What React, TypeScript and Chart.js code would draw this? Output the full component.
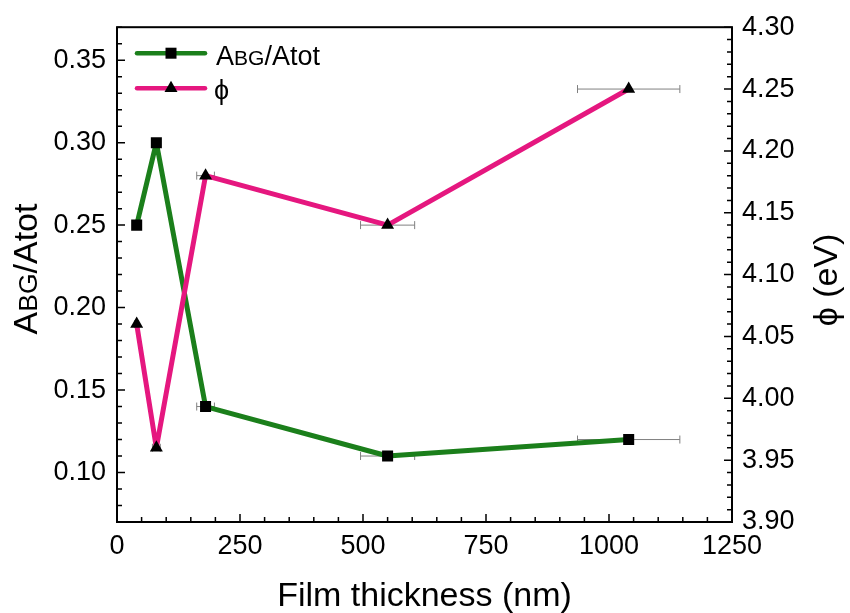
import { useEffect, useRef } from 'react';
import { Chart, registerables } from 'chart.js';

Chart.register(...registerables);

// ---- data ----
const THICKNESS = [40, 80, 180, 550, 1040];
const THICKNESS_ERR = [4, 8, 18, 55, 104];
const ABG_RATIO = [0.25, 0.3, 0.14, 0.11, 0.12];
const WORK_FUNCTION = [4.06, 3.96, 4.18, 4.14, 4.25];

// ---- axes ----
const X_TICKS = [0, 250, 500, 750, 1000, 1250];
const LEFT_TICKS = [0.1, 0.15, 0.2, 0.25, 0.3, 0.35];
const RIGHT_TICKS = [3.9, 3.95, 4.0, 4.05, 4.1, 4.15, 4.2, 4.25, 4.3];
const X_RANGE = [0, 1250];
const LEFT_RANGE = [0.07, 0.37];
const RIGHT_RANGE = [3.9, 4.3];
const X_MINOR_STEP = 50;
const Y_MINOR_STEP = 0.01;

const SERIES_NAMES = ['ABG/Atot', 'ϕ'];
const X_TITLE = 'Film thickness (nm)';
const RIGHT_TITLE = 'ϕ (eV)';

const GREEN = '#1b7f1b';
const PINK = '#e5177f';
const FONT = '"Liberation Sans", Arial, Helvetica, "DejaVu Sans", sans-serif';

function drawRich(ctx: CanvasRenderingContext2D, parts: Array<[string, number]>, x: number, y: number, size: number, align: 'center' | 'left') {
  let total = 0;
  const widths = parts.map(([t, f]) => {
    ctx.font = `${size * f}px ${FONT}`;
    const w = ctx.measureText(t).width;
    total += w;
    return w;
  });
  let cx = align === 'center' ? x - total / 2 : x;
  ctx.textAlign = 'left';
  ctx.textBaseline = 'alphabetic';
  ctx.fillStyle = '#000';
  parts.forEach(([t, f], i) => {
    ctx.font = `${size * f}px ${FONT}`;
    ctx.fillText(t, cx, y);
    cx += widths[i];
  });
}

function rangeSteps(min: number, max: number, step: number) {
  const out: number[] = [];
  const n = Math.round((max - min) / step);
  for (let i = 0; i <= n; i++) out.push(min + i * step);
  return out;
}

function isMajor(v: number, majors: number[]) {
  return majors.some((m) => Math.abs(m - v) < 1e-6);
}

const ABG_PARTS: Array<[string, number]> = [['A', 1], ['BG', 0.78], ['/Atot', 1]];

const framePlugin = {
  id: 'framePlugin',
  beforeDatasetsDraw(chart: any) {
    const ctx: CanvasRenderingContext2D = chart.ctx;
    const xs = chart.scales.x;
    ctx.save();
    ctx.strokeStyle = '#808080';
    ctx.lineWidth = 1;
    chart.data.datasets.forEach((ds: any) => {
      const ys = chart.scales[ds.yAxisID];
      ds.data.forEach((p: any, i: number) => {
        const err = THICKNESS_ERR[i];
        const x0 = xs.getPixelForValue(p.x - err);
        const x1 = xs.getPixelForValue(p.x + err);
        const y = ys.getPixelForValue(p.y);
        ctx.beginPath();
        ctx.moveTo(x0, y);
        ctx.lineTo(x1, y);
        ctx.moveTo(x0, y - 4);
        ctx.lineTo(x0, y + 4);
        ctx.moveTo(x1, y - 4);
        ctx.lineTo(x1, y + 4);
        ctx.stroke();
      });
    });
    ctx.restore();
  },
  afterDraw(chart: any) {
    const ctx: CanvasRenderingContext2D = chart.ctx;
    const { left, right, top, bottom } = chart.chartArea;
    const xs = chart.scales.x;
    const yl = chart.scales.y;
    const yr = chart.scales.y1;
    ctx.save();
    // frame
    ctx.strokeStyle = '#000';
    ctx.lineWidth = 2;
    ctx.strokeRect(left, top, right - left, bottom - top);
    // ticks
    ctx.lineWidth = 1.5;
    ctx.beginPath();
    rangeSteps(X_RANGE[0], X_RANGE[1], X_MINOR_STEP).forEach((v) => {
      const len = isMajor(v, X_TICKS) ? 8 : 5;
      const px = xs.getPixelForValue(v);
      ctx.moveTo(px, bottom);
      ctx.lineTo(px, bottom - len);
    });
    rangeSteps(LEFT_RANGE[0], LEFT_RANGE[1], Y_MINOR_STEP).forEach((v) => {
      const len = isMajor(v, LEFT_TICKS) ? 8 : 5;
      const py = yl.getPixelForValue(v);
      ctx.moveTo(left, py);
      ctx.lineTo(left + len, py);
    });
    rangeSteps(RIGHT_RANGE[0], RIGHT_RANGE[1], Y_MINOR_STEP).forEach((v) => {
      const len = isMajor(v, RIGHT_TICKS) ? 8 : 5;
      const py = yr.getPixelForValue(v);
      ctx.moveTo(right, py);
      ctx.lineTo(right - len, py);
    });
    ctx.stroke();

    // axis titles
    drawRich(ctx, [[X_TITLE, 1]], (left + right) / 2, 606, 34, 'center');
    ctx.save();
    ctx.translate(37, 269);
    ctx.rotate(-Math.PI / 2);
    drawRich(ctx, ABG_PARTS, 0, 0, 34, 'center');
    ctx.restore();
    ctx.save();
    ctx.translate(837, 280);
    ctx.rotate(-Math.PI / 2);
    drawRich(ctx, [[RIGHT_TITLE, 1]], 0, 0, 34, 'center');
    ctx.restore();

    // legend
    const lx0 = left + 20;
    const lx1 = left + 88;
    const lxm = (lx0 + lx1) / 2;
    const rows = [
      { y: top + 26, color: GREEN, marker: 'rect' },
      { y: top + 61, color: PINK, marker: 'triangle' },
    ];
    rows.forEach((r) => {
      ctx.strokeStyle = r.color;
      ctx.lineWidth = 4.5;
      ctx.lineCap = 'round';
      ctx.beginPath();
      ctx.moveTo(lx0, r.y);
      ctx.lineTo(lx1, r.y);
      ctx.stroke();
      ctx.fillStyle = '#000';
      ctx.beginPath();
      if (r.marker === 'rect') {
        ctx.rect(lxm - 5.5, r.y - 5.5, 11, 11);
      } else {
        const rad = 7.5;
        ctx.moveTo(lxm, r.y - rad);
        ctx.lineTo(lxm + rad * Math.sin((2 * Math.PI) / 3), r.y + rad / 2);
        ctx.lineTo(lxm - rad * Math.sin((2 * Math.PI) / 3), r.y + rad / 2);
        ctx.closePath();
      }
      ctx.fill();
    });
    drawRich(ctx, ABG_PARTS, lx1 + 11, top + 38, 27, 'left');
    drawRich(ctx, [[SERIES_NAMES[1], 1]], lx1 + 9, top + 72, 27, 'left');
    ctx.restore();
  },
};

export default function App() {
  const ref = useRef<HTMLCanvasElement | null>(null);
  useEffect(() => {
    document.body.style.margin = '0';
    const canvas = ref.current;
    if (!canvas) return;
    const tickFont = { family: FONT, size: 27 };
    const chart = new Chart(canvas, {
      type: 'line',
      data: {
        datasets: [
          {
            label: SERIES_NAMES[0],
            data: THICKNESS.map((x, i) => ({ x, y: ABG_RATIO[i] })),
            yAxisID: 'y',
            borderColor: GREEN,
            backgroundColor: '#000',
            borderWidth: 5,
            borderJoinStyle: 'round',
            borderCapStyle: 'round',
            pointStyle: 'rect',
            pointRadius: 7.8,
            pointBorderWidth: 0,
            pointBackgroundColor: '#000',
            tension: 0,
            order: 2,
          },
          {
            label: SERIES_NAMES[1],
            data: THICKNESS.map((x, i) => ({ x, y: WORK_FUNCTION[i] })),
            yAxisID: 'y1',
            borderColor: PINK,
            backgroundColor: '#000',
            borderWidth: 5,
            borderJoinStyle: 'round',
            borderCapStyle: 'round',
            pointStyle: 'triangle',
            pointRadius: 7.5,
            pointBorderWidth: 0,
            pointBackgroundColor: '#000',
            tension: 0,
            order: 1,
          },
        ],
      },
      options: {
        animation: false,
        responsive: false,
        maintainAspectRatio: false,
        layout: { padding: { top: 24, left: 0, right: 0, bottom: 0 } },
        plugins: { legend: { display: false }, tooltip: { enabled: false } },
        scales: {
          x: {
            type: 'linear',
            min: X_RANGE[0],
            max: X_RANGE[1],
            grid: { display: false, drawTicks: false },
            border: { display: false },
            afterBuildTicks: (s: any) => {
              s.ticks = X_TICKS.map((value) => ({ value }));
            },
            afterFit: (s: any) => {
              s.height = 91;
            },
            ticks: {
              font: tickFont,
              color: '#000',
              padding: 8,
              maxRotation: 0,
              autoSkip: false,
              callback: (v: any) => String(v),
            },
          },
          y: {
            type: 'linear',
            position: 'left',
            min: LEFT_RANGE[0],
            max: LEFT_RANGE[1],
            grid: { display: false, drawTicks: false },
            border: { display: false },
            afterBuildTicks: (s: any) => {
              s.ticks = LEFT_TICKS.map((value) => ({ value }));
            },
            afterFit: (s: any) => {
              s.width = 117;
            },
            ticks: {
              font: tickFont,
              color: '#000',
              padding: 11,
              autoSkip: false,
              callback: (v: any) => Number(v).toFixed(2),
            },
          },
          y1: {
            type: 'linear',
            position: 'right',
            min: RIGHT_RANGE[0],
            max: RIGHT_RANGE[1],
            grid: { display: false, drawTicks: false },
            border: { display: false },
            afterBuildTicks: (s: any) => {
              s.ticks = RIGHT_TICKS.map((value) => ({ value }));
            },
            afterFit: (s: any) => {
              s.width = 118;
            },
            ticks: {
              font: tickFont,
              color: '#000',
              padding: 10,
              autoSkip: false,
              callback: (v: any) => Number(v).toFixed(2),
            },
          },
        },
      },
      plugins: [framePlugin],
    } as any);
    return () => chart.destroy();
  }, []);
  return (
    <div style={{ width: 850, height: 613, background: '#fff' }}>
      <canvas ref={ref} width={850} height={613} style={{ display: 'block', width: 850, height: 613 }} />
    </div>
  );
}
